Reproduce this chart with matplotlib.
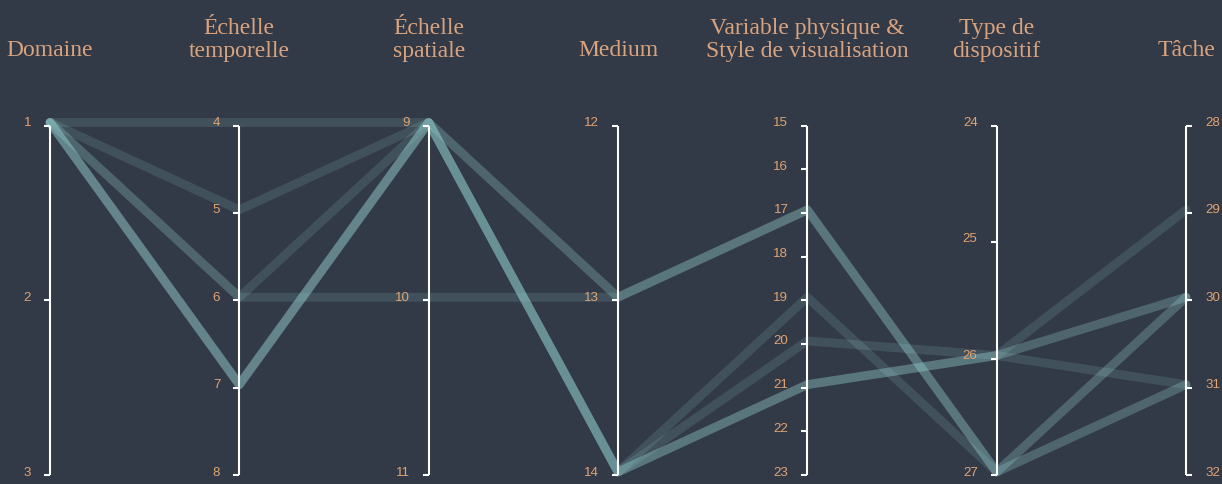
import matplotlib
matplotlib.use("Agg")
import matplotlib.pyplot as plt
import matplotlib.transforms as mtransforms

# axes of the parallel-coordinates chart
noms = ['Domaine', 'Échelle\ntemporelle', 'Échelle\nspatiale', 'Medium',
        'Variable physique &\nStyle de visualisation', 'Type de\ndispositif', 'Tâche']
graduations = [
    [1, 2, 3],
    [4, 5, 6, 7, 8],
    [9, 10, 11],
    [12, 13, 14],
    [15, 16, 17, 18, 19, 20, 21, 22, 23],
    [24, 25, 26, 27],
    [28, 29, 30, 31, 32],
]

# one row per record, one value per axis
lignes = [
    [1, 4, 9, 13, 17, 27, 31],
    [1, 5, 9, 14, 19, 27, 30],
    [1, 6, 9, 13, 17, 27, 31],
    [1, 6, 10, 13, 17, 27, 30],
    [1, 7, 9, 14, 20, 26, 29],
    [1, 7, 9, 14, 21, 26, 31],
    [1, 7, 9, 14, 21, 26, 30],
    [1, 7, 9, 14, 21, 26, 30],
]

fond = '#323947'
W, H = 1222, 484
fig = plt.figure(figsize=(W / 100, H / 100), dpi=100, facecolor=fond)
ax = fig.add_axes([0, 0, 1, 1])
ax.set_facecolor(fond)
ax.axis('off')

# layout in pixels
x0, pas = 50, (1186 - 50) / 6
y_haut, y_bas = 125.5, 475
ax.set_xlim(-x0 / pas, (W - x0) / pas)
ech = y_bas - y_haut
ax.set_ylim((H - y_haut) / ech, -y_haut / ech)


def norm(i, v):
    lo, hi = graduations[i][0], graduations[i][-1]
    return (v - lo) / (hi - lo)


# records
decal = mtransforms.offset_copy(ax.transData, fig=fig, x=0, y=3, units='dots')
for rec in lignes:
    xs = list(range(len(rec)))
    ys = [norm(i, v) for i, v in enumerate(rec)]
    ax.plot(xs, ys, color='#93cfcf', alpha=0.16, lw=6.4,
            solid_capstyle='round', solid_joinstyle='round', transform=decal, zorder=2)

# axes, ticks, labels
tick = 6 / pas
for i, (nom, grads) in enumerate(zip(noms, graduations)):
    dernier = i == len(noms) - 1
    sens = 1 if dernier else -1
    ax.plot([i, i], [0, 1], color='white', lw=1.5, zorder=3, solid_capstyle='butt')
    for g in grads:
        y = norm(i, g)
        ax.plot([i, i + sens * tick], [y, y], color='white', lw=1.5, zorder=3,
                solid_capstyle='butt')
        ax.text(i + sens * 19 / pas, y - 2.5 / ech, str(g), color='#e2a36f',
                fontsize=9.6, family='Liberation Sans',
                ha='left' if dernier else 'right', va='center')
    ax.text(i, -64 / ech, nom, color='#d9a37e', fontsize=17,
            family='Liberation Serif', ha='center', va='bottom',
            linespacing=1.12)

fig.savefig('out.png', dpi=100, facecolor=fond)
